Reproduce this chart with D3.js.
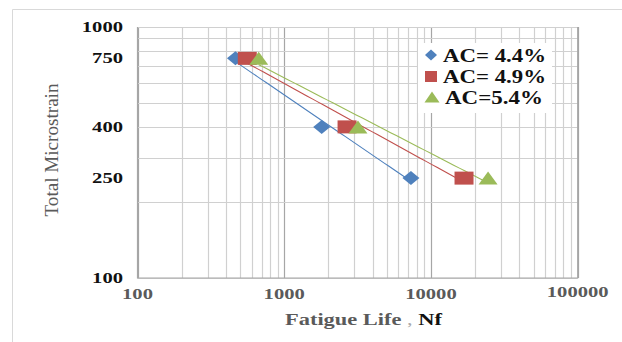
<!DOCTYPE html>
<html>
<head>
<meta charset="utf-8">
<script src="https://cdn.jsdelivr.net/npm/d3@7/dist/d3.min.js"></script>
<style>
  body { margin: 0; background: #fff; }
  svg { display: block; }
</style>
</head>
<body>
<svg id="chart" width="622" height="342"></svg>
<script>
// data
var seriesNames = ["AC= 4.4%", "AC= 4.9%", "AC=5.4%"];
var seriesColors = ["#4F81BD", "#C0504D", "#9BBB59"];
var strainLevels = [750, 400, 250];
var lifeAC44 = [465, 1800, 7300];
var lifeAC49 = [560, 2680, 16800];
var lifeAC54 = [670, 3180, 24500];
var yTickLabels = [1000, 750, 400, 250, 100];
var xTickLabels = [100, 1000, 10000, 100000];

var series = [lifeAC44, lifeAC49, lifeAC54].map(function(life, i) {
  return {
    name: seriesNames[i],
    color: seriesColors[i],
    shape: i,
    points: life.map(function(n, j) { return { x: n, y: strainLevels[j] }; })
  };
});

var svg = d3.select("#chart");
var plotL = 137.5, plotR = 577.7, plotT = 27, plotB = 278;
var serif = "Liberation Serif, Times New Roman, serif";

var x = d3.scaleLog().domain([100, 100000]).range([plotL, plotR]);
var y = d3.scaleLog().domain([100, 1000]).range([plotB, plotT]);

// outer chart frame
svg.append("path")
  .attr("d", "M12.5,342 V9.5 H622")
  .attr("fill", "none")
  .attr("stroke", "#d9d9d9")
  .attr("stroke-width", 1);

// minor + major gridlines
var xGrid = [];
for (var e = 2; e < 5; e++) for (var k = 1; k <= 9; k++) xGrid.push(k * Math.pow(10, e));
xGrid.push(100000);
var yGrid = [];
for (var k2 = 1; k2 <= 10; k2++) yGrid.push(k2 * 100);

var grid = svg.append("g");
grid.selectAll("line.vx")
  .data(xGrid)
  .enter().append("line")
  .attr("x1", function(d) { return Math.round(x(d)) + 0.5; })
  .attr("x2", function(d) { return Math.round(x(d)) + 0.5; })
  .attr("y1", plotT).attr("y2", plotB)
  .attr("stroke", function(d) { return Math.abs(Math.log10(d) % 1) < 1e-9 ? "#a6a6a6" : "#d0d0d0"; })
  .attr("stroke-width", 1.2);

grid.selectAll("line.hy")
  .data(yGrid)
  .enter().append("line")
  .attr("y1", function(d) { return Math.round(y(d)) + 0.5; })
  .attr("y2", function(d) { return Math.round(y(d)) + 0.5; })
  .attr("x1", plotL).attr("x2", plotR)
  .attr("stroke", "#d0d0d0")
  .attr("stroke-width", 1.2);

// axes lines
svg.append("path")
  .attr("d", "M" + plotL + "," + plotT + " V" + plotB + " H" + plotR + " V" + plotT)
  .attr("fill", "none")
  .attr("stroke", "#a6a6a6")
  .attr("stroke-width", 1.2);

// y tick labels
svg.selectAll("text.ylab")
  .data(yTickLabels)
  .enter().append("text")
  .attr("x", 123)
  .attr("y", function(d) { return y(d) + 5; })
  .attr("text-anchor", "end")
  .attr("font-family", serif)
  .attr("font-weight", "bold")
  .attr("font-size", 15)
  .attr("fill", "#111")
  .attr("textLength", function(d) { return String(d).length * 10.3; })
  .attr("lengthAdjust", "spacingAndGlyphs")
  .text(function(d) { return d; });

// x tick labels
svg.selectAll("text.xlab")
  .data(xTickLabels)
  .enter().append("text")
  .attr("x", function(d) { return x(d); })
  .attr("y", function(d, i) { return i === 3 ? 297 : 299; })
  .attr("text-anchor", "middle")
  .attr("font-family", serif)
  .attr("font-weight", "bold")
  .attr("font-size", 15)
  .attr("fill", "#5a5a5a")
  .attr("textLength", function(d) { return String(d).length * 10.3; })
  .attr("lengthAdjust", "spacingAndGlyphs")
  .text(function(d) { return d; });

// axis titles
var xt = svg.append("text")
  .attr("x", 285)
  .attr("y", 325)
  .attr("font-family", serif)
  .attr("font-weight", "bold")
  .attr("font-size", 17)
  .attr("textLength", 157)
  .attr("lengthAdjust", "spacingAndGlyphs");
xt.append("tspan").attr("fill", "#5a5a5a").text("Fatigue Life ");
xt.append("tspan").attr("fill", "#aaa").attr("font-weight", "normal").text(", ");
xt.append("tspan").attr("fill", "#111").text("Nf");

svg.append("text")
  .attr("transform", "translate(58,150) rotate(-90)")
  .attr("text-anchor", "middle")
  .attr("font-family", serif)
  .attr("font-size", 18)
  .attr("fill", "#5a5a5a")
  .attr("textLength", 133)
  .attr("lengthAdjust", "spacingAndGlyphs")
  .text("Total Microstrain");

// power trendlines (least squares in log-log space)
function powerFit(pts) {
  var n = pts.length, sx = 0, sy = 0, sxx = 0, sxy = 0;
  pts.forEach(function(p) {
    var lx = Math.log(p.x), ly = Math.log(p.y);
    sx += lx; sy += ly; sxx += lx * lx; sxy += lx * ly;
  });
  var b = (n * sxy - sx * sy) / (n * sxx - sx * sx);
  var a = Math.exp((sy - b * sx) / n);
  return function(v) { return a * Math.pow(v, b); };
}

var line = d3.line()
  .x(function(d) { return x(d.x); })
  .y(function(d) { return y(d.y); });

series.forEach(function(s) {
  var f = powerFit(s.points);
  var ext = d3.extent(s.points, function(p) { return p.x; });
  var samples = d3.range(0, 41).map(function(i) {
    var v = ext[0] * Math.pow(ext[1] / ext[0], i / 40);
    return { x: v, y: f(v) };
  });
  svg.append("path")
    .datum(samples)
    .attr("d", line)
    .attr("fill", "none")
    .attr("stroke", s.color)
    .attr("stroke-width", 1.1);
});

// marker shapes
function markerPath(shape, w, h) {
  if (shape === 0) return "M" + (-w / 2) + ",0 L0," + (-h / 2) + " L" + (w / 2) + ",0 L0," + (h / 2) + "Z";
  if (shape === 1) return "M" + (-w / 2) + "," + (-h / 2) + " H" + (w / 2) + " V" + (h / 2) + " H" + (-w / 2) + "Z";
  return "M" + (-w / 2) + "," + (h / 2) + " L0," + (-h / 2) + " L" + (w / 2) + "," + (h / 2) + "Z";
}
var markerSize = [[17, 14], [19, 13], [19, 13]];

series.forEach(function(s) {
  svg.append("g").selectAll("path")
    .data(s.points)
    .enter().append("path")
    .attr("transform", function(d) { return "translate(" + x(d.x) + "," + y(d.y) + ")"; })
    .attr("d", markerPath(s.shape, markerSize[s.shape][0], markerSize[s.shape][1]))
    .attr("fill", s.color);
});

// legend
var legend = svg.append("g");
legend.append("rect")
  .attr("x", 418).attr("y", 43)
  .attr("width", 134).attr("height", 70)
  .attr("fill", "#fff");

var legendRows = [55, 76.5, 97];
var legendSize = [[12, 11], [12, 11], [15, 11]];
series.forEach(function(s, i) {
  legend.append("path")
    .attr("transform", "translate(" + (i === 2 ? 432 : 431) + "," + legendRows[i] + ")")
    .attr("d", markerPath(s.shape, legendSize[s.shape][0], legendSize[s.shape][1]))
    .attr("fill", s.color);
  legend.append("text")
    .attr("x", i === 2 ? 445 : 443)
    .attr("y", legendRows[i] + 6.5)
    .attr("font-family", serif)
    .attr("font-weight", "bold")
    .attr("font-size", 18)
    .attr("fill", "#111")
    .attr("textLength", i === 2 ? 98 : 103)
    .attr("lengthAdjust", "spacingAndGlyphs")
    .text(s.name);
});
</script>
</body>
</html>
